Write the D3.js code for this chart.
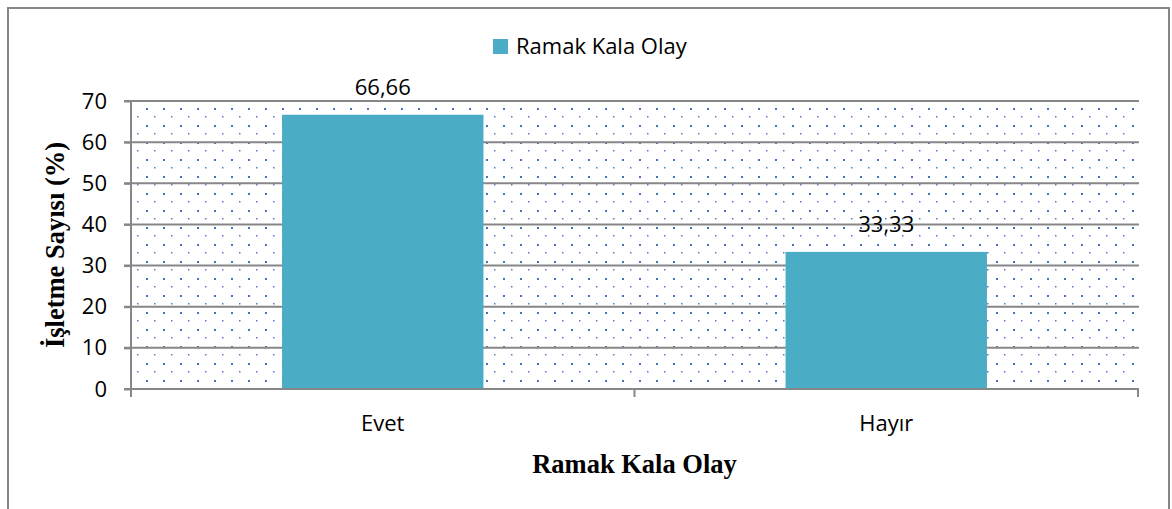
<!DOCTYPE html>
<html><head><meta charset="utf-8">
<script src="https://cdn.jsdelivr.net/npm/d3@7"></script>
<style>body{margin:0;background:#fff}svg{display:block}</style>
</head><body>
<script>
const categories = ["Evet", "Hayır"];
const values = [66.66, 33.33];
const valueLabels = ["66,66", "33,33"];
const yTicks = [0, 10, 20, 30, 40, 50, 60, 70];
const seriesName = "Ramak Kala Olay";
const xTitle = "Ramak Kala Olay";
const yTitle = "İşletme Sayısı (%)";

const W = 1172, H = 509;
const svg = d3.select("body").append("svg").attr("width", W).attr("height", H);
const L = 131, R = 1138, T = 101, B = 389;
const x = d3.scaleBand().domain(categories).range([L, R]).paddingInner(0.6).paddingOuter(0.3);
const xb = d3.scaleBand().domain(categories).range([L, R]);
const y = d3.scaleLinear().domain([0, 70]).range([B, T]);
const grey = "#878787";
const sans = "'Open Sans', sans-serif";
const serif = "'Liberation Serif', 'Times New Roman', serif";

// outer border
svg.append("rect").attr("x", 8).attr("y", 8).attr("width", 1161).attr("height", 520)
  .attr("fill", "none").attr("stroke", grey).attr("stroke-width", 2);

// dotted pattern
const defs = svg.append("defs");
const pat = defs.append("pattern").attr("id", "dots").attr("patternUnits", "userSpaceOnUse")
  .attr("width", 17).attr("height", 17).attr("x", 146).attr("y", 108);
pat.append("rect").attr("x", 0).attr("y", 0).attr("width", 2).attr("height", 2).attr("fill", "#4472c4");
pat.append("rect").attr("x", 8).attr("y", 8).attr("width", 1.5).attr("height", 1.5).attr("fill", "#4f7cc8");
svg.append("rect").attr("x", L).attr("y", T).attr("width", R - L).attr("height", B - T).attr("fill", "url(#dots)");

// gridlines
svg.append("g").selectAll("line").data(yTicks.filter(d => d > 0)).join("line")
  .attr("x1", L - 7).attr("x2", R + 1).attr("y1", d => y(d)).attr("y2", d => y(d))
  .attr("stroke", grey).attr("stroke-width", 2);

// bars
svg.append("g").selectAll("rect").data(values).join("rect")
  .attr("x", (d, i) => x(categories[i])).attr("width", x.bandwidth())
  .attr("y", d => y(d)).attr("height", d => B - y(d)).attr("fill", "#4bacc6");

// axes
const yAxis = d3.axisLeft(y).tickValues(yTicks).tickSize(7).tickPadding(17).tickFormat(d3.format("d"));
const gy = svg.append("g").attr("transform", `translate(${L},0)`).call(yAxis);
gy.select(".domain").attr("stroke", grey).attr("stroke-width", 2).attr("d", `M0,${T}V${B + 8}`);
gy.selectAll(".tick line").attr("stroke", grey).attr("stroke-width", 2);
gy.selectAll("text").attr("font-family", sans).attr("font-size", 22).attr("fill", "#000");

const gx = svg.append("g");
gx.append("line").attr("x1", L - 7).attr("x2", R + 1).attr("y1", B).attr("y2", B).attr("stroke", grey).attr("stroke-width", 2);
const edges = [L, L + xb.bandwidth(), R];
gx.selectAll("line.t").data(edges).join("line").attr("class", "t")
  .attr("x1", d => d).attr("x2", d => d).attr("y1", B).attr("y2", B + 8).attr("stroke", grey).attr("stroke-width", 2);
gx.selectAll("text").data(categories).join("text")
  .attr("x", d => xb(d) + xb.bandwidth() / 2).attr("y", 431).attr("text-anchor", "middle")
  .attr("font-family", sans).attr("font-size", 22).text(d => d);

// value labels
svg.append("g").selectAll("text").data(values).join("text")
  .attr("x", (d, i) => x(categories[i]) + x.bandwidth() / 2).attr("y", d => y(d) - 20)
  .attr("text-anchor", "middle").attr("font-family", sans).attr("font-size", 22)
  .text((d, i) => valueLabels[i]);

// legend
svg.append("rect").attr("x", 493).attr("y", 39).attr("width", 15).attr("height", 15).attr("fill", "#4bacc6");
svg.append("text").attr("x", 516).attr("y", 54).attr("font-family", sans).attr("font-size", 22).text(seriesName);

// titles
svg.append("text").attr("x", (L + R) / 2).attr("y", 473).attr("text-anchor", "middle")
  .attr("font-family", serif).attr("font-weight", "bold").attr("font-size", 26.5).text(xTitle);
svg.append("text").attr("transform", `translate(64,${(T + B) / 2}) rotate(-90)`).attr("text-anchor", "middle")
  .attr("font-family", serif).attr("font-weight", "bold").attr("font-size", 26.5).text(yTitle);
</script>
</body></html>
